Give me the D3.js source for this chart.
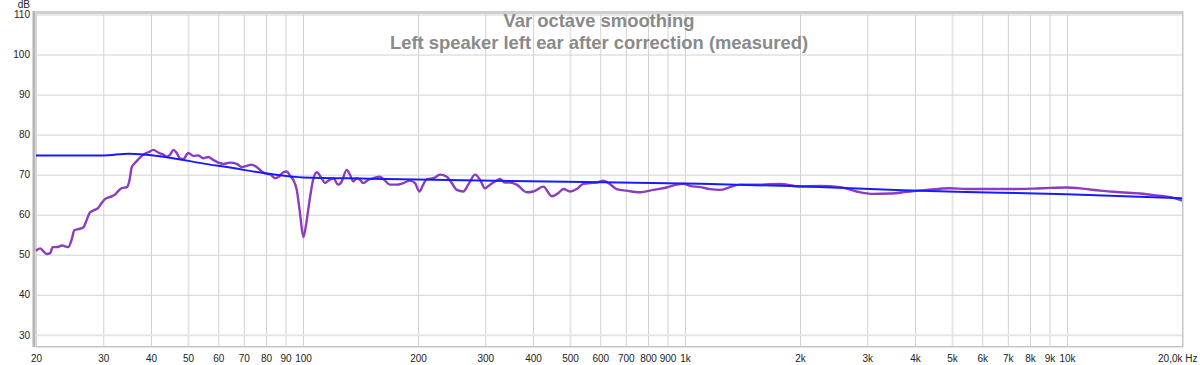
<!DOCTYPE html>
<html>
<head>
<meta charset="utf-8">
<script src="https://cdn.jsdelivr.net/npm/d3@7"></script>
<style>
  body { margin: 0; background: #fff; }
  svg { display: block; font-family: "Liberation Sans", Arial, sans-serif; }
</style>
</head>
<body>
<svg id="chart"></svg>
<script>
// Chart size and plot box
const width = 1200;
const height = 365;
const plotLeft = 36, plotRight = 1182, plotTop = 14.5, plotBottom = 346;

// Title lines
const titleLines = ["Var octave smoothing", "Left speaker left ear after correction (measured)"];

// Axis ticks
const xTickValues = [20, 30, 40, 50, 60, 70, 80, 90, 100, 200, 300, 400, 500, 600, 700, 800, 900,
    1000, 2000, 3000, 4000, 5000, 6000, 7000, 8000, 9000, 10000, 20000];
const xTickLabels = ["20", "30", "40", "50", "60", "70", "80", "90", "100", "200", "300", "400", "500",
    "600", "700", "800", "900", "1k", "2k", "3k", "4k", "5k", "6k", "7k", "8k", "9k", "10k", "20,0k Hz"];
const xLightTicks = [50, 500, 5000];
const yTickValues = [30, 40, 50, 60, 70, 80, 90, 100, 110];

// Measured response (purple)
const measuredFreq = [20.0, 20.5, 20.9, 21.3, 21.8, 22.1, 22.7, 23.4, 23.8, 24.3, 24.8, 25.2, 25.8, 26.6,
    27.1, 27.7, 28.5, 29.1, 29.7, 30.3, 31.2, 32.2, 32.9, 33.5, 34.6, 35.2, 35.6, 36.3, 37.1, 38.2, 39.4,
    40.6, 41.8, 43.1, 44.0, 44.9, 45.8, 46.7, 47.6, 48.6, 50.1, 51.6, 53.2, 54.8, 56.5, 58.2, 60.0, 61.9,
    64.4, 67.1, 69.1, 71.2, 73.4, 75.6, 78.0, 80.4, 82.0, 84.5, 86.2, 88.8, 90.7, 92.5, 94.3, 96.3, 98.2,
    100.2, 102.3, 104.3, 106.4, 108.6, 111.9, 114.2, 116.5, 120.0, 123.7, 126.3, 130.1, 132.7, 135.4,
    138.2, 141.0, 143.8, 148.2, 152.8, 159.0, 163.9, 168.9, 175.9, 183.0, 190.6, 196.4, 201.6, 206.4,
    210.8, 219.5, 228.5, 237.9, 245.2, 252.7, 262.8, 270.8, 282.1, 290.8, 299.7, 308.8, 318.2, 327.9,
    337.9, 348.2, 362.6, 385.3, 400.8, 425.6, 447.9, 466.1, 480.3, 500.0, 520.6, 541.7, 564.0, 587.4,
    611.3, 630.0, 662.7, 703.6, 762.6, 826.0, 895.5, 951.1, 989.8, 1030, 1095, 1163, 1235, 1312, 1393,
    1572, 1773, 2000, 2256, 2545, 2814, 3111, 3440, 3805, 4292, 4940, 5464, 6678, 8159, 9025, 9979,
    11034, 12202, 13760, 15530, 17170, 18980, 20000];
const measuredDb = [51.0, 51.6, 50.9, 50.2, 50.4, 51.9, 51.9, 52.3, 52.1, 51.9, 53.8, 56.1, 56.4, 56.8,
    58.5, 60.6, 61.2, 61.7, 62.9, 63.9, 64.4, 65.0, 66.0, 66.6, 66.9, 69.0, 71.8, 72.9, 73.9, 75.0, 75.6,
    76.2, 75.5, 75.0, 74.5, 75.0, 76.2, 75.4, 74.1, 73.9, 75.4, 74.7, 74.8, 74.1, 74.4, 73.7, 73.0, 72.7,
    73.0, 72.7, 71.9, 72.2, 72.5, 71.9, 70.8, 70.2, 70.1, 69.1, 69.4, 70.6, 70.8, 69.7, 68.7, 66.2, 60.4,
    54.4, 58.7, 64.3, 68.9, 70.6, 69.1, 67.9, 68.5, 69.1, 67.5, 68.3, 71.2, 70.0, 68.3,
    69.1, 68.7, 67.9, 68.7, 69.1, 69.5, 68.5, 67.5, 67.5, 67.9, 68.5, 67.9, 65.8, 67.5,
    68.9, 69.1, 70.0, 69.5, 67.9, 66.2, 65.8, 67.5, 70.0, 68.7, 66.6, 67.5, 68.3, 68.9,
    68.0, 68.0, 67.5, 65.6, 65.8, 67.0, 64.6, 65.4, 66.4, 65.8, 66.4, 67.7, 67.9, 68.0,
    68.5, 67.9, 66.4, 66.0, 65.6, 66.2, 66.8, 67.5, 67.7, 67.2, 66.9, 66.4, 66.2, 66.9, 67.5,
    67.5, 67.7, 67.0, 67.2, 66.9, 65.8, 65.2, 65.3, 65.7, 66.2, 66.6, 66.4, 66.4, 66.5, 66.7, 66.8,
    66.5, 66.0, 65.6, 65.3, 64.8, 64.2, 63.5];

// Target curve (blue)
const targetFreq = [20, 30, 35, 60, 100, 150, 350, 1100, 2000, 3700, 6700, 10000, 20000];
const targetDb = [74.8, 74.8, 75.25, 72.2, 69.3, 69.0, 68.4, 67.7, 67.1, 66.1, 65.5, 65.1, 64.1];

// Colors
const GRID_COLOR = '#d2d2d2';
const GRID_LIGHT = '#e6e6e6';
const MEASURED_COLOR = '#8c3cc0';
const TARGET_COLOR = '#1a1aff';
const TEXT_COLOR = '#222';
const TITLE_COLOR = '#8a8a8a';

const svg = d3.select('#chart')
    .attr('width', width)
    .attr('height', height)
    .attr('viewBox', [0, 0, width, height]);

const x = d3.scaleLog().domain([20, 20000]).range([plotLeft, plotRight]);
const y = d3.scaleLinear()
    .domain([110 - (plotBottom - plotTop) / 4.004, 110])
    .range([plotBottom, plotTop]);

// Grid + labels via axes
const xAxis = svg.append('g')
    .attr('transform', `translate(0,${plotBottom})`)
    .call(d3.axisBottom(x)
        .tickValues(xTickValues)
        .tickFormat((d, i) => xTickLabels[i])
        .tickSize(-(plotBottom - plotTop))
        .tickPadding(9));
xAxis.select('.domain').remove();
xAxis.selectAll('.tick line')
    .attr('stroke', d => xLightTicks.includes(d) ? GRID_LIGHT : GRID_COLOR)
    .attr('stroke-width', d => xLightTicks.includes(d) ? 2 : 1);
xAxis.selectAll('.tick text')
    .attr('fill', TEXT_COLOR)
    .attr('font-size', 10)
    .attr('font-family', '"Liberation Sans", Arial, sans-serif');
// last label carries the unit, keep it inside the page
xAxis.selectAll('.tick text')
    .filter(d => d === 20000)
    .attr('text-anchor', 'end')
    .attr('x', 15);

const yAxis = svg.append('g')
    .attr('transform', `translate(${plotLeft},0)`)
    .call(d3.axisLeft(y)
        .tickValues(yTickValues)
        .tickSize(-(plotRight - plotLeft))
        .tickPadding(6));
yAxis.select('.domain').remove();
yAxis.selectAll('.tick line')
    .attr('stroke', d => d === 30 ? GRID_LIGHT : GRID_COLOR)
    .attr('stroke-width', d => d === 30 ? 2 : 1);
yAxis.selectAll('.tick text')
    .attr('fill', TEXT_COLOR)
    .attr('font-size', 10)
    .attr('font-family', '"Liberation Sans", Arial, sans-serif');

svg.append('text')
    .attr('x', 30).attr('y', 8)
    .attr('text-anchor', 'end')
    .attr('font-size', 10)
    .attr('fill', TEXT_COLOR)
    .text('dB');

// Frame
svg.append('line').attr('x1', plotLeft).attr('x2', plotRight + 1).attr('y1', 12.5).attr('y2', 12.5)
    .attr('stroke', '#cfcfcf').attr('stroke-width', 3);
svg.append('line').attr('x1', 34).attr('x2', 34).attr('y1', 11).attr('y2', plotBottom + 1)
    .attr('stroke', '#b4b4b4').attr('stroke-width', 3);
svg.append('line').attr('x1', plotLeft).attr('x2', plotRight + 1)
    .attr('y1', plotBottom + 0.5).attr('y2', plotBottom + 0.5)
    .attr('stroke', '#c4c4c4').attr('stroke-width', 1);
svg.append('line').attr('x1', plotLeft).attr('x2', plotRight + 2)
    .attr('y1', plotBottom + 1.5).attr('y2', plotBottom + 1.5)
    .attr('stroke', '#e4e4e4').attr('stroke-width', 1);
svg.append('line').attr('x1', plotRight + 0.5).attr('x2', plotRight + 0.5)
    .attr('y1', 11).attr('y2', plotBottom + 1)
    .attr('stroke', '#c4c4c4').attr('stroke-width', 1);
svg.append('line').attr('x1', plotRight + 1.5).attr('x2', plotRight + 1.5)
    .attr('y1', 11).attr('y2', plotBottom + 2)
    .attr('stroke', '#e4e4e4').attr('stroke-width', 1);

// Curves
const line = d3.line()
    .x(d => x(d[0]))
    .y(d => y(d[1]))
    .curve(d3.curveMonotoneX);

svg.append('path')
    .datum(measuredFreq.map((f, i) => [f, measuredDb[i]]))
    .attr('fill', 'none')
    .attr('stroke', MEASURED_COLOR)
    .attr('stroke-width', 2.4)
    .attr('stroke-linejoin', 'round')
    .attr('d', line);

svg.append('path')
    .datum(targetFreq.map((f, i) => [f, targetDb[i]]))
    .attr('fill', 'none')
    .attr('stroke', TARGET_COLOR)
    .attr('stroke-width', 2)
    .attr('d', line);

// Title
svg.append('g')
    .selectAll('text')
    .data(titleLines)
    .join('text')
        .attr('x', 599)
        .attr('y', (d, i) => 27 + i * 22)
        .attr('text-anchor', 'middle')
        .attr('font-size', 18.4)
        .attr('font-weight', 'bold')
        .attr('fill', TITLE_COLOR)
        .text(d => d);
</script>
</body>
</html>
